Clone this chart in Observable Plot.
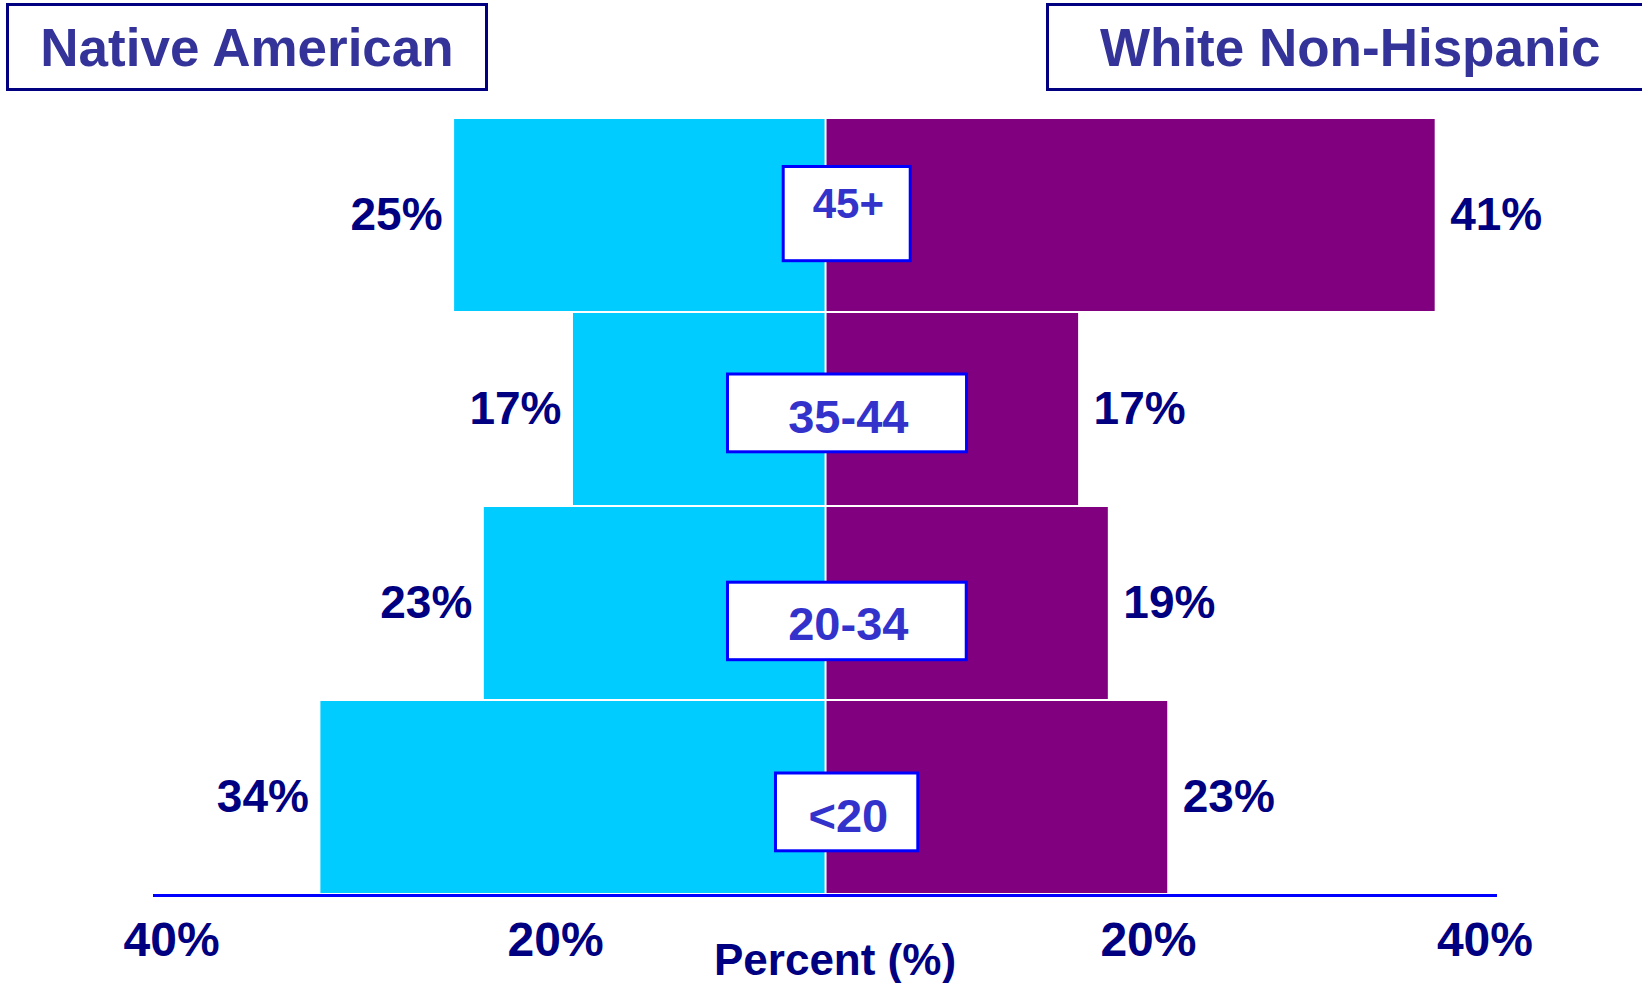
<!DOCTYPE html>
<html>
<head>
<meta charset="utf-8">
<script src="https://cdn.jsdelivr.net/npm/d3@7"></script>
<script src="https://cdn.jsdelivr.net/npm/@observablehq/plot@0.6"></script>
<style>
  html, body { margin: 0; padding: 0; background: #ffffff; }
  #wrap { position: relative; width: 1642px; height: 983px; overflow: hidden; font-family: "Liberation Sans", Arial, sans-serif; }
  .title-box { position: absolute; box-sizing: border-box; border: 3px solid #000080; background: #fff;
               color: #333399; font-weight: bold; font-size: 53px; display: flex; align-items: center; white-space: nowrap; }
  #chart { position: absolute; left: 0; top: 0; }
</style>
</head>
<body>
<div id="wrap">
  <div id="chart"></div>
  <div class="title-box" style="left:6px; top:3px; width:482px; height:88px; justify-content:center;">Native American</div>
  <div class="title-box" style="left:1046px; top:3px; width:640px; height:88px; padding-left:51px;">White Non-Hispanic</div>
</div>
<script>
// ---- data ----
const ages = ["45+", "35-44", "20-34", "<20"];
const nativeAmerican = [25, 17, 23, 34];
const whiteNonHispanic = [41, 17, 19, 23];
const tickValues = [-44.05, -18.2, 21.7, 44.35];
const tickLabels = ["40%", "20%", "20%", "40%"];
const axisTitle = "Percent (%)";

// ---- layout / style (not data) ----
const boxLayout = {
  "45+":   {x1: -2.85, x2: 5.7,  insetTop: 48.5, insetBottom: 51.3, dy: -11, size: 42},
  "35-44": {x1: -6.6,  x2: 9.49, insetTop: 62,   insetBottom: 54.2, dy: 8,   size: 47},
  "20-34": {x1: -6.6,  x2: 9.47, insetTop: 76.2, insetBottom: 40.3, dy: 21.5, size: 47},
  "<20":   {x1: -3.37, x2: 6.21, insetTop: 73,   insetBottom: 43.2, dy: 19,  size: 47}
};
const labelX = 1.5;

const rows = ages.map((age, i) => ({age, native: nativeAmerican[i], white: whiteNonHispanic[i]}));
const font = "'Liberation Sans', Arial, sans-serif";

const boxMarks = ages.flatMap(age => {
  const b = boxLayout[age];
  return [
    Plot.barX([age], {y: d => d, x1: () => b.x1, x2: () => b.x2, insetTop: b.insetTop, insetBottom: b.insetBottom,
                      fill: "#ffffff", stroke: "#0000ff", strokeWidth: 3}),
    Plot.text([age], {y: d => d, x: () => labelX, text: d => d, dy: b.dy, fontSize: b.size, fontWeight: "bold",
                      fill: "#3333cc", textAnchor: "middle"})
  ];
});

const chart = Plot.plot({
  width: 1642,
  height: 983,
  marginLeft: 154,
  marginRight: 147,
  marginTop: 117,
  marginBottom: 88,
  style: {fontFamily: font, background: "transparent"},
  x: {domain: [-45.2, 45.06], axis: null},
  y: {domain: ages, padding: 0, axis: null},
  marks: [
    Plot.barX(rows, {y: "age", x1: d => -d.native, x2: () => 0, fill: "#00ccff", insetTop: 1, insetBottom: 1, insetRight: 1}),
    Plot.barX(rows, {y: "age", x1: () => 0, x2: d => d.white, fill: "#800080", insetTop: 1, insetBottom: 1, insetLeft: 1}),
    Plot.text(rows, {y: "age", x: d => -d.native, text: d => d.native + "%", textAnchor: "end", dx: -12,
                     fontSize: 46, fontWeight: "bold", fill: "#000080"}),
    Plot.text(rows, {y: "age", x: d => d.white, text: d => d.white + "%", textAnchor: "start", dx: 15,
                     fontSize: 46, fontWeight: "bold", fill: "#000080"}),
    ...boxMarks,
    Plot.frame({anchor: "bottom", stroke: "#0000ff", strokeWidth: 3}),
    Plot.axisX({ticks: tickValues, tickFormat: d => tickLabels[tickValues.indexOf(d)], tickSize: 0, tickPadding: 26,
                fontSize: 48, fontWeight: "bold", color: "#000080", label: null}),
    Plot.text([axisTitle], {frameAnchor: "bottom", text: d => d, dx: 10, dy: 48, lineAnchor: "top",
                            fontSize: 44, fontWeight: "bold", fill: "#000080"})
  ]
});
document.getElementById("chart").append(chart);
</script>
</body>
</html>
